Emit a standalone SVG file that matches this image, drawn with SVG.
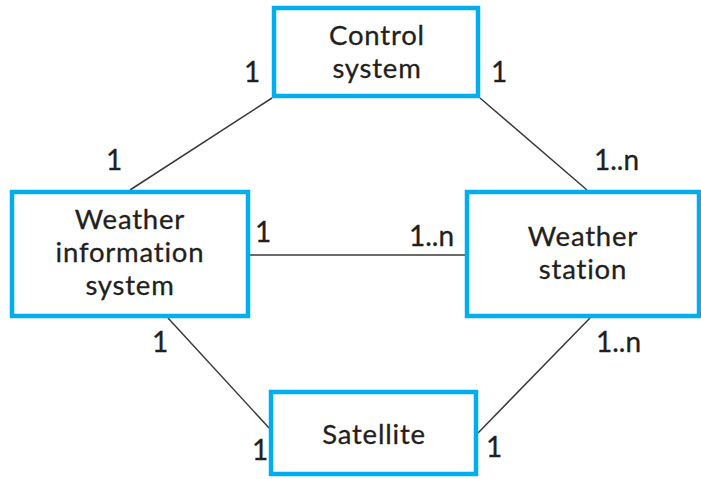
<svg xmlns="http://www.w3.org/2000/svg" width="701" height="479" viewBox="0 0 701 479">
  <style>
    .box { fill: #ffffff; stroke: #00aeef; stroke-width: 4.5; }
    .name { font-family: Lato, "Open Sans", sans-serif; font-size: 27.5px; letter-spacing: 0.8px; fill: #231f20; stroke: #231f20; stroke-width: 0.3; text-anchor: middle; }
    .mult { font-family: Lato, "Open Sans", sans-serif; font-size: 28px; fill: #231f20; stroke: #231f20; stroke-width: 0.3; }
    .link { stroke: #3a3a3a; stroke-width: 1.5; fill: none; }
  </style>
  <rect width="701" height="479" fill="#ffffff"/>

  <!-- associations -->
  <g id="connectors">
    <line class="link" x1="272" y1="98" x2="130" y2="190"/>
    <line class="link" x1="480" y1="98" x2="587" y2="190"/>
    <line class="link" x1="250" y1="255" x2="465" y2="255"/>
    <line class="link" x1="168" y1="318" x2="270" y2="429"/>
    <line class="link" x1="590" y1="318" x2="478" y2="433"/>
  </g>

  <g id="control-system">
    <rect class="box" x="274" y="8" width="204" height="88"/>
    <text class="name" x="377" y="45">Control</text>
    <text class="name" x="377" y="78">system</text>
  </g>

  <g id="weather-information-system">
    <rect class="box" x="12" y="192" width="236" height="124"/>
    <text class="name" x="130" y="229">Weather</text>
    <text class="name" x="130" y="262">information</text>
    <text class="name" x="130" y="295">system</text>
  </g>

  <g id="weather-station">
    <rect class="box" x="467" y="192" width="232" height="124"/>
    <text class="name" x="583" y="246">Weather</text>
    <text class="name" x="583" y="279">station</text>
  </g>

  <g id="satellite">
    <rect class="box" x="271" y="392" width="205" height="82"/>
    <text class="name" x="374" y="444">Satellite</text>
  </g>

  <!-- multiplicities -->
  <g id="multiplicities">
    <text class="mult" x="244" y="82">1</text>
    <text class="mult" x="491" y="82">1</text>
    <text class="mult" x="106" y="170">1</text>
    <text class="mult" x="594" y="170">1..n</text>
    <text class="mult" x="255" y="242">1</text>
    <text class="mult" x="409" y="246">1..n</text>
    <text class="mult" x="152" y="352">1</text>
    <text class="mult" x="596" y="352">1..n</text>
    <text class="mult" x="252" y="460">1</text>
    <text class="mult" x="486" y="457">1</text>
  </g>
</svg>
